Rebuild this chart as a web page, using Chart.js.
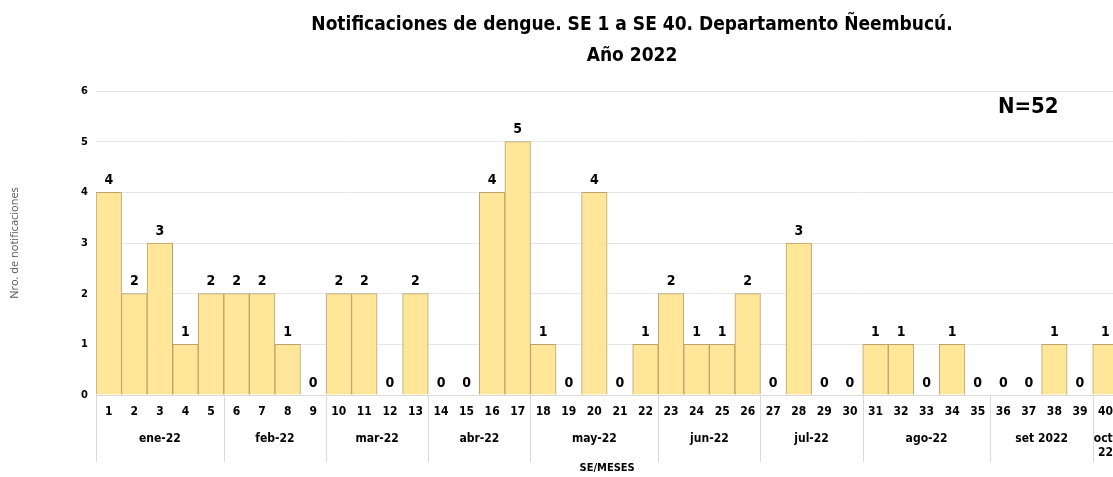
<!DOCTYPE html>
<html>
<head>
<meta charset="utf-8">
<script src="https://cdn.jsdelivr.net/npm/chart.js@4/dist/chart.umd.min.js"></script>
<style>
  html, body { margin: 0; padding: 0; background: #fff; overflow: hidden; }
  #wrap { width: 1113px; height: 477px; overflow: hidden; }
</style>
</head>
<body>
<div id="wrap"><canvas id="dengueChart" width="1123" height="477"></canvas></div>
<script>
// semanas epidemiologicas 1..40
const weeks  = ['1','2','3','4','5','6','7','8','9','10','11','12','13','14','15','16','17','18','19','20',
                '21','22','23','24','25','26','27','28','29','30','31','32','33','34','35','36','37','38','39','40'];
const cases  = [4,2,3,1,2, 2,2,1,0, 2,2,0,2, 0,0,4,5, 1,0,4,0,1, 2,1,1,2, 0,3,0,0, 1,1,0,1,0, 0,0,1,0, 1];

// meses: etiqueta, primera y ultima semana
const months      = ['ene-22','feb-22','mar-22','abr-22','may-22','jun-22','jul-22','ago-22','set 2022','oct-22'];
const monthFirst  = [1, 6, 10, 14, 18, 23, 27, 31, 36, 40];
const monthLast   = [5, 9, 13, 17, 22, 26, 30, 35, 39, 40];

const titleLines = ['Notificaciones de dengue. SE 1 a SE 40. Departamento Ñeembucú.', 'Año 2022'];
const totalLabel = 'N=52';
const FONT = '"DejaVu Sans Condensed", "DejaVu Sans", sans-serif';

const extrasPlugin = {
  id: 'extras',
  afterDatasetsDraw(chart) {
    const ctx = chart.ctx;
    const x = chart.scales.x;
    const area = chart.chartArea;
    const meta = chart.getDatasetMeta(0);

    ctx.save();
    // titulo (centrado como en el grafico original, mas ancho que la ventana)
    ctx.fillStyle = '#000';
    ctx.font = 'bold 19px ' + FONT;
    ctx.textAlign = 'center';
    ctx.textBaseline = 'middle';
    ctx.fillText(titleLines[0], 632, 25);
    ctx.fillText(titleLines[1], 632, 56);

    // valores encima de las barras
    ctx.font = 'bold 14px ' + FONT;
    ctx.textBaseline = 'bottom';
    meta.data.forEach((bar, i) => {
      ctx.fillText(String(cases[i]), bar.x, bar.y - 5);
    });

    // N total
    ctx.font = 'bold 22px ' + FONT;
    ctx.textBaseline = 'middle';
    ctx.fillText(totalLabel, area.right - 90, area.top + 16);

    // separadores y etiquetas de meses
    const half = (x.getPixelForValue(1) - x.getPixelForValue(0)) / 2;
    const sepBottom = area.bottom + 67;
    ctx.strokeStyle = '#d9d9d9';
    ctx.lineWidth = 1;
    ctx.beginPath();
    ctx.moveTo(area.left, area.bottom + 0.5);
    ctx.lineTo(area.right, area.bottom + 0.5);
    ctx.stroke();

    ctx.font = 'bold 12px ' + FONT;
    months.forEach((m, k) => {
      const x0 = x.getPixelForValue(monthFirst[k] - 1) - half;
      const x1 = x.getPixelForValue(monthLast[k] - 1) + half;
      ctx.beginPath();
      ctx.moveTo(Math.round(x0) + 0.5, area.bottom);
      ctx.lineTo(Math.round(x0) + 0.5, sepBottom);
      ctx.stroke();
      const cx = (x0 + x1) / 2;
      if (ctx.measureText(m).width > (x1 - x0) - 4 && m.indexOf('-') > 0) {
        const p = m.indexOf('-');
        ctx.fillText(m.slice(0, p + 1), cx, area.bottom + 44);
        ctx.fillText(m.slice(p + 1), cx, area.bottom + 58);
      } else {
        ctx.fillText(m, cx, area.bottom + 44);
      }
    });
    ctx.restore();
  }
};

new Chart(document.getElementById('dengueChart'), {
  type: 'bar',
  data: {
    labels: weeks,
    datasets: [{
      data: cases,
      backgroundColor: '#ffe699',
      borderColor: '#b8a370',
      borderWidth: 1,
      barPercentage: 1,
      categoryPercentage: 1,
    }],
  },
  options: {
    responsive: false,
    animation: false,
    layout: { padding: { top: 91, right: 0, bottom: 2, left: 0 } },
    plugins: {
      legend: { display: false },
      tooltip: { enabled: false },
      title: { display: false },
    },
    scales: {
      x: {
        grid: { display: false, drawTicks: false },
        border: { display: false },
        ticks: { color: '#000', font: { family: FONT, size: 12, weight: 'bold' }, padding: 10, maxRotation: 0, autoSkip: false },
        title: { display: true, text: 'SE/MESES', color: '#000', font: { family: FONT, size: 11, weight: 'bold' }, padding: 0 },
        afterFit(scale) { scale.height = 80; },
      },
      y: {
        min: 0,
        max: 6,
        ticks: { stepSize: 1, color: '#000', font: { family: FONT, size: 11, weight: 'bold' }, padding: 8 },
        grid: { color: '#e6e6e6', drawTicks: false },
        border: { display: false },
        title: { display: true, text: 'Nro. de notificaciones', color: '#595959', font: { family: '"Open Sans", sans-serif', size: 11 }, padding: { top: 8 } },
        afterFit(scale) { scale.width = 96; },
      },
    },
  },
  plugins: [extrasPlugin],
});
</script>
</body>
</html>
